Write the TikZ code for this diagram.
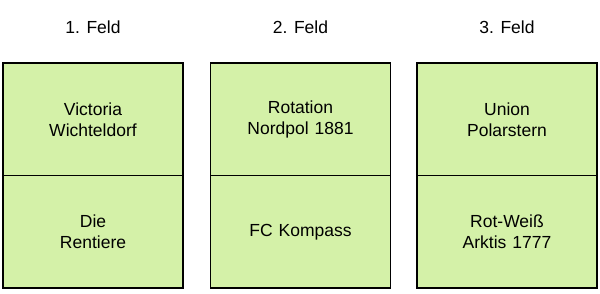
\documentclass[tikz,border=0pt]{standalone}
\usepackage{fontspec}
\setmainfont{Liberation Sans}
\usepackage{xcolor}
\usetikzlibrary{positioning}
\definecolor{feldgreen}{RGB}{212,241,168}

\begin{document}
\begin{tikzpicture}[x=1pt, y=1pt,
  team/.style={draw, fill=feldgreen, line width=1.5pt, minimum width=180pt,
               minimum height=112.5pt, text width=170pt, align=center,
               font=\fontsize{17.5}{21}\selectfont, inner sep=0pt, outer sep=0pt},
  feld/.style={font=\fontsize{17.5}{21}\selectfont}
]
  \useasboundingbox (0,0) rectangle (600,294);
  \node[feld] (f1) at (93, 267) {1. Feld};
  \node[feld] (f2) at (300.5, 267) {2. Feld};
  \node[feld] (f3) at (507, 267) {3. Feld};
  \node[team] (victoria) at (93, 174.5) {Victoria\\Wichteldorf};
  \node[team] (rentiere) at (93, 62) {Die\\Rentiere};
  \node[team] (rotation) at (300.5, 174.5) {Rotation\\Nordpol 1881};
  \node[team] (kompass) at (300.5, 62) {FC Kompass};
  \node[team] (union) at (507, 174.5) {Union\\Polarstern};
  \node[team] (rotweiss) at (507, 62) {Rot-Weiß\\Arktis 1777};
\end{tikzpicture}
\end{document}
